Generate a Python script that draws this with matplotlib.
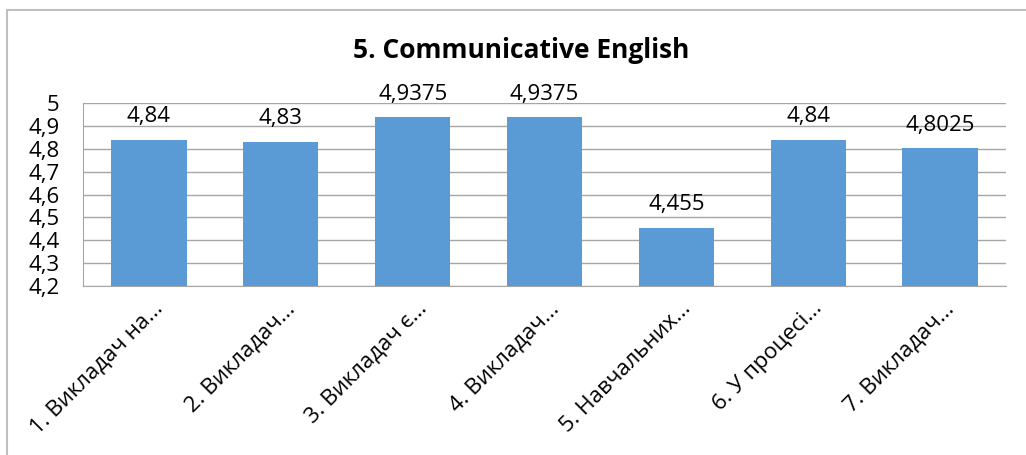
import numpy as np
import matplotlib.pyplot as plt
import matplotlib.transforms as mtransforms
from matplotlib.patches import Rectangle

plt.rcParams['font.family'] = ['Open Sans', 'DejaVu Sans']

# chart data
categories = ['1. Викладач на...', '2. Викладач...', '3. Викладач є...', '4. Викладач...',
              '5. Навчальних...', '6. У процесі...', '7. Викладач...']
values = [4.84, 4.83, 4.9375, 4.9375, 4.455, 4.84, 4.8025]
yticks = [4.2, 4.3, 4.4, 4.5, 4.6, 4.7, 4.8, 4.9, 5.0]

bar_color = '#5B9BD5'
grid_color = '#A6A6A6'

fig = plt.figure(figsize=(10.26, 4.55), dpi=100)
ax = fig.add_axes([83 / 1026, 1 - 286 / 455, (1006 - 83) / 1026, (286 - 103) / 455])

# chart border (runs past the bottom/right edge of the image like the screenshot)
fig.patches.append(Rectangle((7 / 1026, -0.1), 1.2, 1 - 10 / 455 + 0.1, transform=fig.transFigure,
                             fill=False, edgecolor='#BFBFBF', linewidth=1.5))

x = np.arange(len(categories))
ax.bar(x, values, width=0.57, color=bar_color, zorder=3)

for xi, v in zip(x, values):
    txt = ('%g' % v).replace('.', ',')
    ax.annotate(txt, (xi, v), xytext=(0, 9), textcoords='offset points',
                ha='center', va='bottom', fontsize=16)

ax.set_xlim(-0.5, len(categories) - 0.5)
ax.set_ylim(4.2, 5.0)
ax.set_yticks(yticks)
ax.set_yticklabels([('%g' % t).replace('.', ',') for t in yticks], fontsize=16)
ax.yaxis.grid(True, color=grid_color, linewidth=1)
ax.set_axisbelow(True)
ax.tick_params(axis='y', length=0, pad=17)
ax.tick_params(axis='x', length=0, pad=4)

ax.set_xticks(x)
labels = ax.set_xticklabels(categories, rotation=45, ha='right', va='center',
                            rotation_mode='anchor', fontsize=16)
offset = mtransforms.ScaledTranslation(11 / 100, -14 / 100, fig.dpi_scale_trans)
for lab in labels:
    lab.set_transform(lab.get_transform() + offset)

for side in ['top', 'right']:
    ax.spines[side].set_visible(False)
ax.spines['left'].set_color(grid_color)
ax.spines['bottom'].set_color(grid_color)

fig.text(521 / 1026, 1 - 50 / 455, '5. Communicative English', ha='center', va='center',
         fontsize=19, fontweight='bold')

fig.savefig('out.png', dpi=100)
